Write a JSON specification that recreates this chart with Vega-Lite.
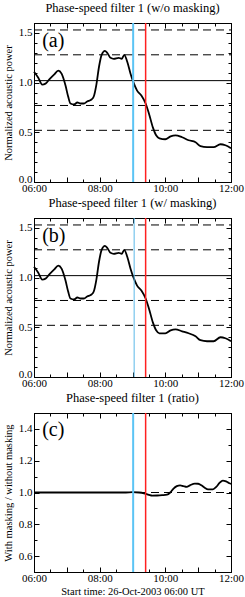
{
  "$schema": "https://vega.github.io/schema/vega-lite/v6.json",
  "padding": {"left": 2, "top": 1, "right": 4, "bottom": 0},
  "config": {
    "font": "Liberation Serif, Times New Roman, serif",
    "view": {"stroke": "black", "strokeWidth": 1},
    "axis": {"grid": false, "domainColor": "black", "tickColor": "black", "labelColor": "black", "titleColor": "black", "labelFont": "Liberation Serif, Times New Roman, serif", "titleFont": "Liberation Serif, Times New Roman, serif", "labelFontSize": 11, "titleFontSize": 10.5, "titleFontWeight": "normal", "labelFlush": false, "labelOverlap": false},
    "title": {"font": "Liberation Serif, Times New Roman, serif", "fontSize": 12.5, "fontWeight": "normal", "color": "black", "offset": 3}
  },
  "datasets": {
    "wo": [
      {"t": 6.0, "p": 1.11}, {"t": 6.13, "p": 1.05}, {"t": 6.25, "p": 0.98}, {"t": 6.35, "p": 0.99}, {"t": 6.46, "p": 1.03}, {"t": 6.61, "p": 1.08}, {"t": 6.74, "p": 1.12}, {"t": 6.84, "p": 1.09}, {"t": 6.96, "p": 0.97}, {"t": 7.04, "p": 0.86}, {"t": 7.11, "p": 0.79}, {"t": 7.22, "p": 0.78}, {"t": 7.32, "p": 0.80}, {"t": 7.42, "p": 0.79}, {"t": 7.52, "p": 0.79}, {"t": 7.62, "p": 0.81}, {"t": 7.75, "p": 0.83}, {"t": 7.82, "p": 0.86}, {"t": 7.90, "p": 0.98}, {"t": 7.98, "p": 1.16}, {"t": 8.06, "p": 1.28}, {"t": 8.16, "p": 1.32}, {"t": 8.23, "p": 1.30}, {"t": 8.33, "p": 1.25}, {"t": 8.43, "p": 1.24}, {"t": 8.58, "p": 1.25}, {"t": 8.67, "p": 1.24}, {"t": 8.75, "p": 1.28}, {"t": 8.84, "p": 1.21}, {"t": 8.94, "p": 1.09}, {"t": 9.02, "p": 1.01}, {"t": 9.14, "p": 0.92}, {"t": 9.27, "p": 0.87}, {"t": 9.40, "p": 0.79}, {"t": 9.50, "p": 0.69}, {"t": 9.62, "p": 0.55}, {"t": 9.72, "p": 0.47}, {"t": 9.82, "p": 0.44}, {"t": 10.0, "p": 0.43}, {"t": 10.16, "p": 0.46}, {"t": 10.31, "p": 0.47}, {"t": 10.51, "p": 0.45}, {"t": 10.71, "p": 0.42}, {"t": 10.92, "p": 0.40}, {"t": 11.07, "p": 0.36}, {"t": 11.27, "p": 0.35}, {"t": 11.47, "p": 0.35}, {"t": 11.68, "p": 0.38}, {"t": 11.83, "p": 0.37}, {"t": 12.0, "p": 0.34}
    ],
    "w": [
      {"t": 6.0, "p": 1.11}, {"t": 6.13, "p": 1.05}, {"t": 6.25, "p": 0.98}, {"t": 6.35, "p": 0.99}, {"t": 6.46, "p": 1.03}, {"t": 6.61, "p": 1.08}, {"t": 6.74, "p": 1.12}, {"t": 6.84, "p": 1.09}, {"t": 6.96, "p": 0.97}, {"t": 7.04, "p": 0.86}, {"t": 7.11, "p": 0.79}, {"t": 7.22, "p": 0.78}, {"t": 7.32, "p": 0.80}, {"t": 7.42, "p": 0.79}, {"t": 7.52, "p": 0.79}, {"t": 7.62, "p": 0.81}, {"t": 7.75, "p": 0.83}, {"t": 7.82, "p": 0.86}, {"t": 7.90, "p": 0.98}, {"t": 7.98, "p": 1.16}, {"t": 8.06, "p": 1.28}, {"t": 8.16, "p": 1.32}, {"t": 8.23, "p": 1.30}, {"t": 8.33, "p": 1.25}, {"t": 8.43, "p": 1.24}, {"t": 8.58, "p": 1.25}, {"t": 8.67, "p": 1.24}, {"t": 8.75, "p": 1.28}, {"t": 8.84, "p": 1.21}, {"t": 8.94, "p": 1.09}, {"t": 9.02, "p": 1.01}, {"t": 9.14, "p": 0.92}, {"t": 9.27, "p": 0.87}, {"t": 9.40, "p": 0.79}, {"t": 9.50, "p": 0.69}, {"t": 9.62, "p": 0.55}, {"t": 9.72, "p": 0.47}, {"t": 9.82, "p": 0.44}, {"t": 10.0, "p": 0.44}, {"t": 10.16, "p": 0.47}, {"t": 10.31, "p": 0.48}, {"t": 10.51, "p": 0.46}, {"t": 10.71, "p": 0.44}, {"t": 10.92, "p": 0.41}, {"t": 11.07, "p": 0.37}, {"t": 11.27, "p": 0.36}, {"t": 11.47, "p": 0.36}, {"t": 11.68, "p": 0.40}, {"t": 11.83, "p": 0.39}, {"t": 12.0, "p": 0.36}
    ],
    "ratio": [
      {"t": 6.0, "r": 1.0}, {"t": 7.0, "r": 1.0}, {"t": 8.0, "r": 1.0}, {"t": 8.8, "r": 1.0}, {"t": 9.0, "r": 1.002}, {"t": 9.2, "r": 1.0}, {"t": 9.35, "r": 0.995}, {"t": 9.5, "r": 0.985}, {"t": 9.6, "r": 0.98}, {"t": 9.75, "r": 0.981}, {"t": 9.9, "r": 0.983}, {"t": 10.05, "r": 0.986}, {"t": 10.15, "r": 1.0}, {"t": 10.25, "r": 1.025}, {"t": 10.35, "r": 1.04}, {"t": 10.45, "r": 1.045}, {"t": 10.55, "r": 1.04}, {"t": 10.65, "r": 1.035}, {"t": 10.75, "r": 1.045}, {"t": 10.9, "r": 1.056}, {"t": 11.0, "r": 1.055}, {"t": 11.1, "r": 1.045}, {"t": 11.2, "r": 1.03}, {"t": 11.3, "r": 1.02}, {"t": 11.45, "r": 1.02}, {"t": 11.55, "r": 1.035}, {"t": 11.65, "r": 1.06}, {"t": 11.75, "r": 1.075}, {"t": 11.85, "r": 1.07}, {"t": 11.95, "r": 1.058}, {"t": 12.0, "r": 1.055}
    ],
    "dashes": [{"v": 1.53}, {"v": 1.28}, {"v": 0.77}, {"v": 0.52}],
    "one": [{"v": 1}]
  },
  "vconcat": [
    {
      "title": "Phase-speed filter 1 (w/o masking)",
      "width": 197, "height": 159,
      "layer": [
        {"data": {"name": "wo"}, "mark": {"type": "line", "color": "black", "strokeWidth": 1.8, "interpolate": "monotone"},
         "encoding": {
           "x": {"field": "t", "type": "quantitative", "scale": {"domain": [6, 12], "nice": false, "zero": false}, "axis": {"orient": "bottom", "title": null, "values": [6,6.5,7,7.5,8,8.5,9,9.5,10,10.5,11,11.5,12], "labelExpr": "datum.value % 2 == 0 ? (datum.value < 10 ? '0' : '') + datum.value + ':00' : ''", "tickSize": {"condition": {"test": "datum.value % 1 == 0", "value": -5}, "value": -3}, "labelPadding": 5}},
           "y": {"field": "p", "type": "quantitative", "scale": {"domain": [0, 1.6], "nice": false, "zero": false}, "axis": {"orient": "left", "title": "Normalized acoustic power", "values": [0,0.1,0.2,0.3,0.4,0.5,0.6,0.7,0.8,0.9,1.0,1.1,1.2,1.3,1.4,1.5,1.6], "labelExpr": "abs(datum.value*2 - round(datum.value*2)) < 0.01 && datum.value < 1.55 ? format(datum.value, '.1f') : ''", "labelOffset": {"condition": {"test": "datum.value < 0.05", "value": -3}, "value": 0}, "tickSize": {"condition": {"test": "abs(datum.value*2 - round(datum.value*2)) < 0.01", "value": -5}, "value": -3}, "labelPadding": 7, "titlePadding": 5}}
         }},
        {"data": {"name": "dashes"}, "mark": {"type": "rule", "color": "black", "strokeDash": [8, 5], "strokeWidth": 1},
         "encoding": {"x": {"datum": 6, "type": "quantitative", "scale": {"domain": [6, 12], "nice": false, "zero": false}, "axis": {"orient": "top", "title": null, "labels": false, "values": [6,6.5,7,7.5,8,8.5,9,9.5,10,10.5,11,11.5,12], "tickSize": {"condition": {"test": "datum.value % 1 == 0", "value": -5}, "value": -3}}}, "x2": {"datum": 12},
           "y": {"field": "v", "type": "quantitative", "scale": {"domain": [0, 1.6], "nice": false, "zero": false}, "axis": {"orient": "right", "title": null, "labels": false, "values": [0,0.1,0.2,0.3,0.4,0.5,0.6,0.7,0.8,0.9,1.0,1.1,1.2,1.3,1.4,1.5,1.6], "tickSize": {"condition": {"test": "abs(datum.value*2 - round(datum.value*2)) < 0.01", "value": -5}, "value": -3}}}}},
        {"data": {"name": "one"}, "mark": {"type": "rule", "color": "black", "strokeWidth": 1}, "encoding": {"x": {"datum": 6, "type": "quantitative", "axis": null}, "x2": {"datum": 12}, "y": {"datum": 1.02, "type": "quantitative", "axis": null}}},
        {"data": {"name": "one"}, "mark": {"type": "rule", "color": "#5bc4f5", "strokeWidth": 2},
         "encoding": {"y": {"datum": 0, "type": "quantitative", "axis": null}, "y2": {"datum": 1.6}, "x": {"datum": 9.02, "type": "quantitative", "axis": null}}},
        {"data": {"name": "one"}, "mark": {"type": "rule", "color": "#ff2020", "strokeWidth": 1.5}, "encoding": {"y": {"datum": 0, "type": "quantitative", "axis": null}, "y2": {"datum": 1.6}, "x": {"datum": 9.40, "type": "quantitative", "axis": null}}},
        {"data": {"values": [{"lab": "(a)"}]}, "mark": {"type": "text", "fontSize": 20, "align": "left", "baseline": "middle", "font": "Liberation Serif, Times New Roman, serif"},
         "encoding": {"text": {"field": "lab"}, "x": {"datum": 6.25, "type": "quantitative", "axis": null}, "y": {"datum": 1.42, "type": "quantitative", "axis": null}}}
      ]
    },
    {
      "title": "Phase-speed filter 1 (w/ masking)",
      "width": 197, "height": 159,
      "layer": [
        {"data": {"name": "w"}, "mark": {"type": "line", "color": "black", "strokeWidth": 1.8, "interpolate": "monotone"},
         "encoding": {
           "x": {"field": "t", "type": "quantitative", "scale": {"domain": [6, 12], "nice": false, "zero": false}, "axis": {"orient": "bottom", "title": null, "values": [6,6.5,7,7.5,8,8.5,9,9.5,10,10.5,11,11.5,12], "labelExpr": "datum.value % 2 == 0 ? (datum.value < 10 ? '0' : '') + datum.value + ':00' : ''", "tickSize": {"condition": {"test": "datum.value % 1 == 0", "value": -5}, "value": -3}, "labelPadding": 5}},
           "y": {"field": "p", "type": "quantitative", "scale": {"domain": [0, 1.6], "nice": false, "zero": false}, "axis": {"orient": "left", "title": "Normalized acoustic power", "values": [0,0.1,0.2,0.3,0.4,0.5,0.6,0.7,0.8,0.9,1.0,1.1,1.2,1.3,1.4,1.5,1.6], "labelExpr": "abs(datum.value*2 - round(datum.value*2)) < 0.01 && datum.value < 1.55 ? format(datum.value, '.1f') : ''", "labelOffset": {"condition": {"test": "datum.value < 0.05", "value": -3}, "value": 0}, "tickSize": {"condition": {"test": "abs(datum.value*2 - round(datum.value*2)) < 0.01", "value": -5}, "value": -3}, "labelPadding": 7, "titlePadding": 5}}
         }},
        {"data": {"name": "dashes"}, "mark": {"type": "rule", "color": "black", "strokeDash": [8, 5], "strokeWidth": 1},
         "encoding": {"x": {"datum": 6, "type": "quantitative", "scale": {"domain": [6, 12], "nice": false, "zero": false}, "axis": {"orient": "top", "title": null, "labels": false, "values": [6,6.5,7,7.5,8,8.5,9,9.5,10,10.5,11,11.5,12], "tickSize": {"condition": {"test": "datum.value % 1 == 0", "value": -5}, "value": -3}}}, "x2": {"datum": 12},
           "y": {"field": "v", "type": "quantitative", "scale": {"domain": [0, 1.6], "nice": false, "zero": false}, "axis": {"orient": "right", "title": null, "labels": false, "values": [0,0.1,0.2,0.3,0.4,0.5,0.6,0.7,0.8,0.9,1.0,1.1,1.2,1.3,1.4,1.5,1.6], "tickSize": {"condition": {"test": "abs(datum.value*2 - round(datum.value*2)) < 0.01", "value": -5}, "value": -3}}}}},
        {"data": {"name": "one"}, "mark": {"type": "rule", "color": "black", "strokeWidth": 1}, "encoding": {"x": {"datum": 6, "type": "quantitative", "axis": null}, "x2": {"datum": 12}, "y": {"datum": 1.02, "type": "quantitative", "axis": null}}},
        {"data": {"name": "one"}, "mark": {"type": "rule", "color": "#5bb8e8", "strokeWidth": 1},
         "encoding": {"y": {"datum": 0, "type": "quantitative", "axis": null}, "y2": {"datum": 1.6}, "x": {"datum": 9.05, "type": "quantitative", "axis": null}}},
        {"data": {"name": "one"}, "mark": {"type": "rule", "color": "#ff2020", "strokeWidth": 1.5}, "encoding": {"y": {"datum": 0, "type": "quantitative", "axis": null}, "y2": {"datum": 1.6}, "x": {"datum": 9.40, "type": "quantitative", "axis": null}}},
        {"data": {"values": [{"lab": "(b)"}]}, "mark": {"type": "text", "fontSize": 20, "align": "left", "baseline": "middle", "font": "Liberation Serif, Times New Roman, serif"},
         "encoding": {"text": {"field": "lab"}, "x": {"datum": 6.25, "type": "quantitative", "axis": null}, "y": {"datum": 1.42, "type": "quantitative", "axis": null}}}
      ]
    },
    {
      "title": "Phase-speed filter 1 (ratio)",
      "width": 197, "height": 159,
      "layer": [
        {"data": {"name": "ratio"}, "mark": {"type": "line", "color": "black", "strokeWidth": 1.8, "interpolate": "monotone"},
         "encoding": {
           "x": {"field": "t", "type": "quantitative", "scale": {"domain": [6, 12], "nice": false, "zero": false}, "axis": {"orient": "bottom", "title": "Start time: 26-Oct-2003 06:00 UT", "titleFontSize": 10.5, "titlePadding": 1, "values": [6,6.5,7,7.5,8,8.5,9,9.5,10,10.5,11,11.5,12], "labelExpr": "datum.value % 2 == 0 ? (datum.value < 10 ? '0' : '') + datum.value + ':00' : ''", "tickSize": {"condition": {"test": "datum.value % 1 == 0", "value": -5}, "value": -3}, "labelPadding": 5}},
           "y": {"field": "r", "type": "quantitative", "scale": {"domain": [0.5, 1.5], "nice": false, "zero": false}, "axis": {"orient": "left", "title": "With masking / without masking", "values": [0.5,0.6,0.7,0.8,0.9,1.0,1.1,1.2,1.3,1.4,1.5], "labelExpr": "abs(datum.value*5 - round(datum.value*5)) < 0.01 && datum.value > 0.55 && datum.value < 1.45 ? format(datum.value, '.1f') : ''", "tickSize": {"condition": {"test": "abs(datum.value*5 - round(datum.value*5)) < 0.01", "value": -5}, "value": -3}, "labelPadding": 7, "titlePadding": 5}}
         }},
        {"data": {"name": "one"}, "mark": {"type": "rule", "color": "black", "strokeDash": [8, 5], "strokeWidth": 1},
         "encoding": {"x": {"datum": 6, "type": "quantitative", "scale": {"domain": [6, 12], "nice": false, "zero": false}, "axis": {"orient": "top", "title": null, "labels": false, "values": [6,6.5,7,7.5,8,8.5,9,9.5,10,10.5,11,11.5,12], "tickSize": {"condition": {"test": "datum.value % 1 == 0", "value": -5}, "value": -3}}}, "x2": {"datum": 12},
           "y": {"datum": 1.0, "type": "quantitative", "scale": {"domain": [0.5, 1.5], "nice": false, "zero": false}, "axis": {"orient": "right", "title": null, "labels": false, "values": [0.5,0.6,0.7,0.8,0.9,1.0,1.1,1.2,1.3,1.4,1.5], "tickSize": {"condition": {"test": "abs(datum.value*5 - round(datum.value*5)) < 0.01", "value": -5}, "value": -3}}}}},
        {"data": {"name": "one"}, "mark": {"type": "rule", "color": "#5bc4f5", "strokeWidth": 2},
         "encoding": {"y": {"datum": 0.5, "type": "quantitative", "axis": null}, "y2": {"datum": 1.5}, "x": {"datum": 9.02, "type": "quantitative", "axis": null}}},
        {"data": {"name": "one"}, "mark": {"type": "rule", "color": "#ff2020", "strokeWidth": 1.5}, "encoding": {"y": {"datum": 0.5, "type": "quantitative", "axis": null}, "y2": {"datum": 1.5}, "x": {"datum": 9.40, "type": "quantitative", "axis": null}}},
        {"data": {"values": [{"lab": "(c)"}]}, "mark": {"type": "text", "fontSize": 20, "align": "left", "baseline": "middle", "font": "Liberation Serif, Times New Roman, serif"},
         "encoding": {"text": {"field": "lab"}, "x": {"datum": 6.25, "type": "quantitative", "axis": null}, "y": {"datum": 1.39, "type": "quantitative", "axis": null}}}
      ]
    }
  ],
  "spacing": 36,
  "bounds": "flush"
}
